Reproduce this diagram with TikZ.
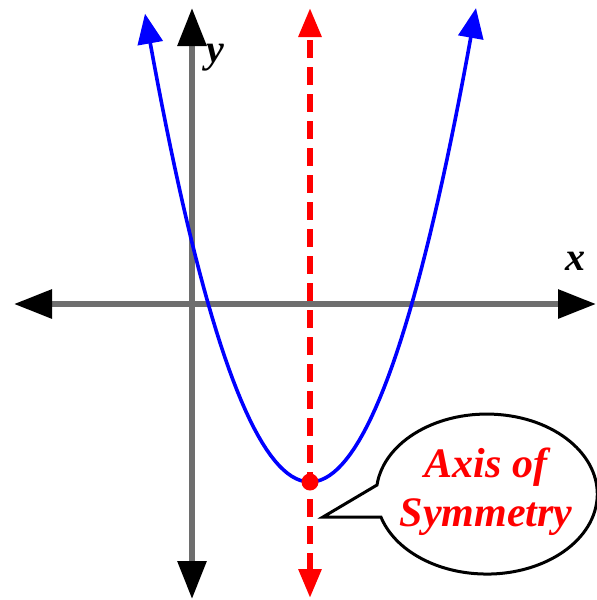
\documentclass[tikz,border=0pt]{standalone}
\usepackage{fontspec}
\setmainfont{Liberation Serif}
\usepackage{tikz}
\usetikzlibrary{arrows.meta}
\definecolor{cAxis}{HTML}{6E6E6E}
\definecolor{cCurve}{HTML}{0000FF}
\definecolor{cSym}{HTML}{FF0000}
\tikzset{
  axis/.style   ={{Triangle[length=19pt,width=14pt,color=black]}-{Triangle[length=19pt,width=14pt,color=black]}, line width=3pt, draw=cAxis},
  symline/.style={{Triangle[length=14.5pt,width=11pt]}-{Triangle[length=14.5pt,width=11pt]}, line width=3pt, draw=cSym, dash pattern=on 9pt off 4.5pt},
  curve/.style  ={{Triangle[length=15pt,width=12.5pt]}-{Triangle[length=15pt,width=12.5pt]}, line width=1.8pt, draw=cCurve},
  lbl/.style    ={font=\fontsize{20}{24}\selectfont\bfseries\itshape, inner sep=0pt},
  callout/.style={draw=black, line width=1.5pt, fill=white},
}

\begin{document}
\begin{tikzpicture}[x=0.5pt,y=-0.5pt]
  \useasboundingbox (0,0) rectangle (597,600);
  % axes
  \coordinate (xw) at (14,304);  \coordinate (xe) at (596,304);
  \coordinate (ys) at (192,599); \coordinate (yn) at (192,8);
  \draw[axis] (xw) -- (xe);
  \draw[axis] (ys) -- (yn);
  \node[lbl] (xlab) at (575,261) {x};
  \node[lbl] (ylab) at (215,58) {y};
  % axis of symmetry
  \coordinate (ss) at (310,598); \coordinate (sn) at (310,8);
  \draw[symline] (ss) -- (sn);
  % parabola and vertex
  \draw[curve] plot[domain=-16.5:16.6, samples=80] ({310+10*\x},{482-1.72*\x*\x});
  \node[circle, fill=cSym, inner sep=0pt, minimum size=8.5pt] (vtx) at (310,482) {};
  % callout
  \draw[callout] (377,485) arc[start angle=186.5, end angle=523.3, x radius=110.5, y radius=80] -- (323,517) -- cycle;
  \node[font=\fontsize{21}{24.5}\selectfont\bfseries\itshape, text=cSym, align=center] (sym) at (486,492) {Axis of\\Symmetry};
\end{tikzpicture}
\end{document}
